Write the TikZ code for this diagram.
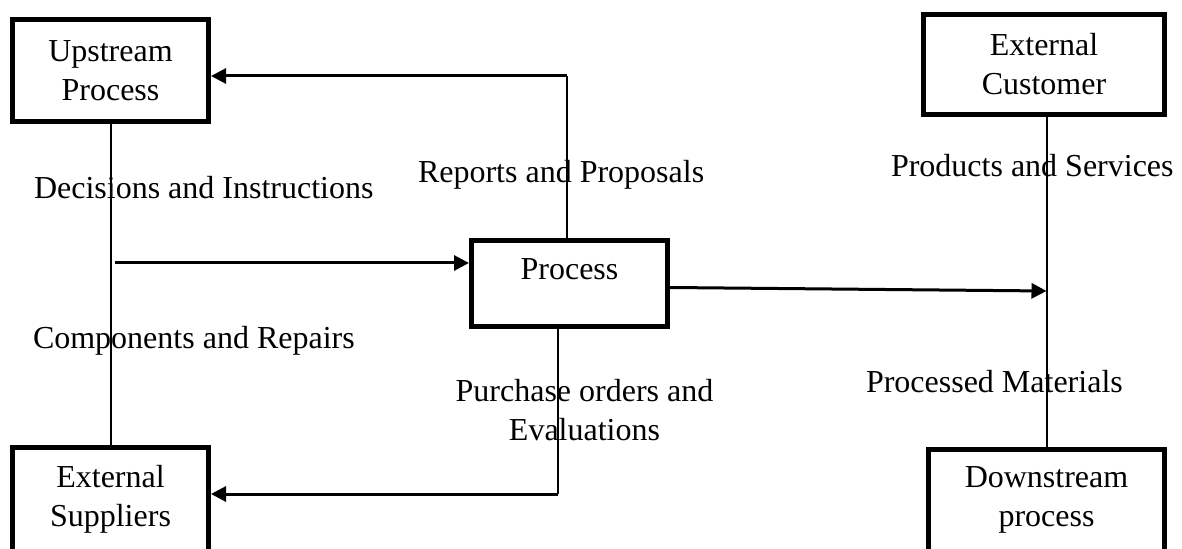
\documentclass[tikz,border=0pt]{standalone}
\usepackage{fontspec}
\setmainfont{Liberation Serif}
\usetikzlibrary{arrows.meta}

\tikzset{every picture/.style={line width=1pt}}
\tikzset{
  procbox/.style={draw, line width=2.5pt, inner sep=0pt, align=center, font=\fontsize{16}{19.5}\selectfont},
  flowlabel/.style={anchor=base west, inner sep=0pt, font=\fontsize{16}{19.5}\selectfont},
  flowline/.style={line width=1pt},
  flowarrow/.style={line width=1.5pt, -{Triangle[length=7.5pt,width=7.5pt]}},
}

\begin{document}
\begin{tikzpicture}[x=0.5pt,y=0.5pt,yscale=-1,xscale=1]
\useasboundingbox (0,0) rectangle (1182,549);

%Shape: Rectangle [id:upstream]
\node [procbox, minimum width=98pt, minimum height=51pt] (up) at (110.5,70.5) {Upstream\\Process};
%Shape: Rectangle [id:process]
\node [procbox, minimum width=98pt, minimum height=43pt, text height=11pt, text depth=14.5pt] (proc) at (569.5,283.5) {Process};
%Shape: Rectangle [id:suppliers]
\node [procbox, minimum width=98pt, minimum height=51.5pt] (sup) at (110.5,499.5) {External\\Suppliers};
%Shape: Rectangle [id:customer]
\node [procbox, minimum width=120.5pt, minimum height=50pt] (cust) at (1044,64.5) {External\\Customer};
%Shape: Rectangle [id:downstream]
\node [procbox, minimum width=118pt, minimum height=50.75pt] (down) at (1046.5,500.25) {Downstream\\process};

%Straight Lines [id:decisions]
\draw [flowline] (up.south) -- (sup.north) ;
\coordinate (di) at (115,263);
\draw [flowarrow] (di) -- (di -| proc.west) ;
%Straight Lines [id:reports]
\coordinate (rp) at (567,76);
\draw [flowline] (proc.north -| rp) -- (rp) ;
\draw [flowarrow] (rp) -- (rp -| up.east) ;
%Straight Lines [id:purchase]
\coordinate (po) at (558,494);
\draw [flowline] (proc.south -| po) -- (po) ;
\draw [flowarrow] (po) -- (po -| sup.east) ;
%Straight Lines [id:products]
\draw [flowline] (cust.south -| down.north) -- (down.north) ;
\coordinate (pm) at (1046.5,291);
\draw [flowarrow] ([yshift=2pt]proc.east) -- (pm) ;

% Text Node
\node [flowlabel] (lbdec) at (33,199) {Decisions and Instructions};
% Text Node
\node [flowlabel] (lbrep) at (417,183) {Reports and Proposals};
% Text Node
\node [flowlabel] (lbprod) at (890,177) {Products and Services};
% Text Node
\node [flowlabel] (lbcomp) at (32,349) {Components and Repairs};
% Text Node
\node [flowlabel, anchor=base, align=center] (lbpur) at (584.5,441) {Purchase orders and\\Evaluations};
% Text Node
\node [flowlabel] (lbmat) at (865,393) {Processed Materials};

\end{tikzpicture}
\end{document}
